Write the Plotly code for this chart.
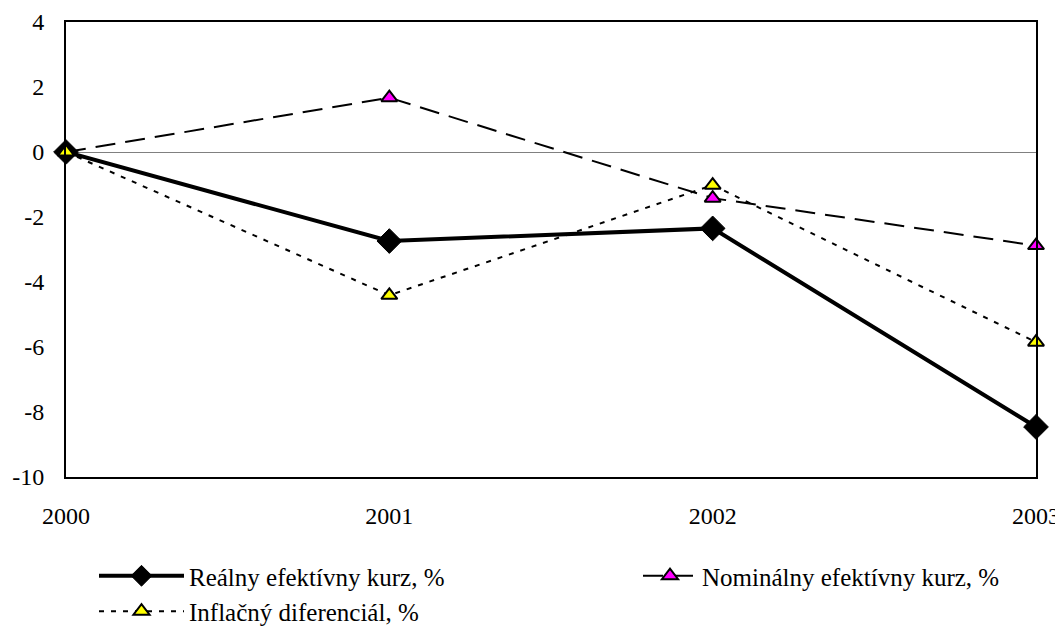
import plotly.graph_objects as go

years = [2000, 2001, 2002, 2003]
real = [0.0, -2.74, -2.35, -8.46]
nominal = [0.0, 1.67, -1.42, -2.88]
inflation = [0.0, -4.41, -1.02, -5.85]

names = ["Reálny efektívny kurz, %", "Nominálny efektívny kurz, %", "Inflačný diferenciál, %"]
y_ticks = [-10, -8, -6, -4, -2, 0, 2, 4]

FONT = "Liberation Serif, Times New Roman, serif"
W, H = 1055, 622

fig = go.Figure()
fig.add_trace(go.Scatter(
    x=years, y=real, name=names[0], mode="lines+markers", legend="legend",
    legendrank=1,
    line=dict(color="black", width=4),
    marker=dict(symbol="diamond", size=19, color="black",
                line=dict(color="black", width=1)),
    cliponaxis=False,
))
fig.add_trace(go.Scatter(
    x=years, y=nominal, name=names[1], mode="lines+markers", legend="legend2",
    line=dict(color="black", width=2, dash="20px,10px"),
    marker=dict(symbol="triangle-up", size=14, color="#FF00FF",
                line=dict(color="black", width=2)),
    cliponaxis=False,
))
fig.add_trace(go.Scatter(
    x=years, y=inflation, name=names[2], mode="lines+markers", legend="legend",
    legendrank=2,
    line=dict(color="black", width=2, dash="5px,7px"),
    marker=dict(symbol="triangle-up", size=14, color="#FFFF00",
                line=dict(color="black", width=2)),
    cliponaxis=False,
))

fig.update_layout(
    width=W, height=H,
    margin=dict(l=58, r=27, t=14, b=153, autoexpand=False),
    paper_bgcolor="white", plot_bgcolor="white",
    font=dict(family=FONT, size=24, color="black"),
    showlegend=True,
    legend=dict(
        orientation="v", traceorder="normal",
        xref="container", yref="container",
        x=86 / W, y=1 - 545 / H, xanchor="left", yanchor="top",
        itemwidth=85, bgcolor="rgba(0,0,0,0)",
        font=dict(family=FONT, size=25, color="black"),
    ),
    legend2=dict(
        orientation="v",
        xref="container", yref="container",
        x=630 / W, y=1 - 545 / H, xanchor="left", yanchor="top",
        itemwidth=54, bgcolor="rgba(0,0,0,0)",
        font=dict(family=FONT, size=25, color="black"),
    ),
    xaxis=dict(
        range=[2000, 2003], tickvals=years, ticktext=[str(y) for y in years],
        showgrid=False, zeroline=False, showline=True, linecolor="black",
        linewidth=2, mirror=True, ticks="", automargin=False,
        ticklabelstandoff=16,
        tickfont=dict(family=FONT, size=24),
    ),
    yaxis=dict(
        range=[-10, 4], tickvals=y_ticks, ticktext=[str(v) for v in y_ticks],
        showgrid=False, zeroline=True, zerolinecolor="#808080", zerolinewidth=1,
        showline=True, linecolor="black", linewidth=2, mirror=True, ticks="",
        automargin=False, ticklabelstandoff=15,
        tickfont=dict(family=FONT, size=24),
    ),
)

fig.write_html("out.html")
